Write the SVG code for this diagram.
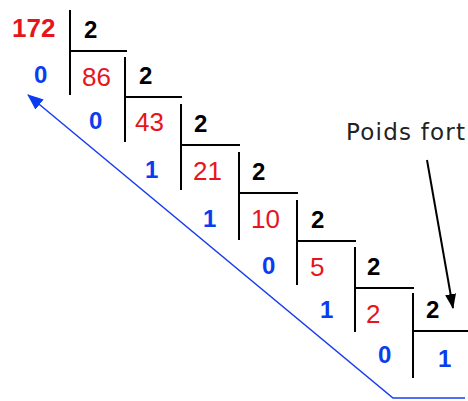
<svg xmlns="http://www.w3.org/2000/svg" width="468" height="401" viewBox="0 0 468 401">
<style>
text{font-family:"Liberation Sans",Arial,sans-serif}
.q{fill:#e8141c;font-size:26px}
.d{fill:#000;font-size:24px;font-weight:bold}
.r{fill:#0a3cf0;font-size:24px;font-weight:bold}
.ln{stroke:#000;stroke-width:2;fill:none}
</style>
<defs>
<marker id="ab" markerWidth="16" markerHeight="13" refX="15" refY="6.5" orient="auto" markerUnits="userSpaceOnUse" viewBox="0 0 16 13"><path d="M0,0 L16,6.5 L0,13 z" fill="#0a3cf0"/></marker>
<marker id="ak" markerWidth="15" markerHeight="11" refX="14" refY="5.5" orient="auto" markerUnits="userSpaceOnUse" viewBox="0 0 15 11"><path d="M0,0 L15,5.5 L0,11 z" fill="#000"/></marker>
</defs>
<g id="connectors">
<polyline points="465,398 393,398 28,95" fill="none" stroke="#1a3cf0" stroke-width="1.5" marker-end="url(#ab)"/>
<line x1="427" y1="160" x2="453" y2="308" stroke="#000" stroke-width="2" marker-end="url(#ak)"/>
</g>
<g id="step0"><path class="ln" d="M70,10 V95 M70,51 H127"/><text x="12" y="37" style="fill:#e8141c;font-size:26px;font-weight:bold">172</text><text class="d" x="84" y="38">2</text><text class="r" x="34" y="83">0</text></g>
<g id="step1"><path class="ln" d="M125,57 V142 M125,97 H182"/><text class="q" x="82" y="86">86</text><text class="d" x="139" y="84">2</text><text class="r" x="89" y="129">0</text></g>
<g id="step2"><path class="ln" d="M181,104 V190 M181,145 H240"/><text class="q" x="135" y="131">43</text><text class="d" x="194" y="132">2</text><text class="r" x="145" y="178">1</text></g>
<g id="step3"><path class="ln" d="M239,152 V240 M239,193 H298"/><text class="q" x="193" y="180">21</text><text class="d" x="252" y="180">2</text><text class="r" x="203" y="227">1</text></g>
<g id="step4"><path class="ln" d="M297,200 V285 M297,241 H356"/><text class="q" x="251" y="228">10</text><text class="d" x="311" y="228">2</text><text class="r" x="262" y="274">0</text></g>
<g id="step5"><path class="ln" d="M355,247 V332 M355,288 H414"/><text class="q" x="310" y="276">5</text><text class="d" x="367" y="275">2</text><text class="r" x="320" y="318">1</text></g>
<g id="step6"><path class="ln" d="M413,293 V378 M413,331 H468"/><text class="q" x="366" y="323">2</text><text class="d" x="426" y="318">2</text><text class="r" x="378" y="363">0</text><text class="r" x="438" y="367">1</text></g>
<g id="label"><text x="346" y="140" style="fill:#222;font-size:23px;font-family:'DejaVu Sans',sans-serif" textLength="119">Poids fort</text></g>
</svg>
